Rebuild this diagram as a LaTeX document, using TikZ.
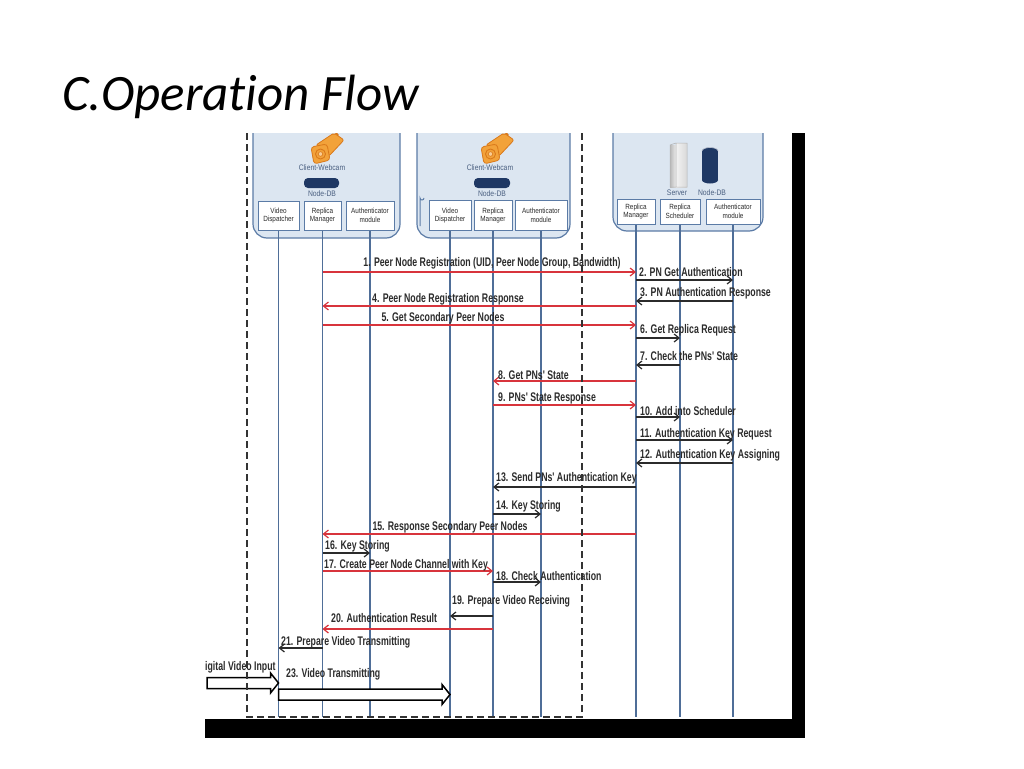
\documentclass[tikz,border=0pt]{standalone}
\usepackage{fontspec}
\setmainfont{Liberation Sans}
\newfontfamily\titlefont[Ligatures={NoCommon}]{Carlito}
\newfontfamily\labfont[FakeStretch=0.7]{Liberation Sans}
\newfontfamily\boxfont[FakeStretch=0.85]{Liberation Sans}
\usetikzlibrary{arrows.meta,calc}
\definecolor{lifec}{HTML}{4F6E98}
\definecolor{boxfill}{HTML}{DCE6F1}
\definecolor{boxline}{HTML}{5B7BA6}
\definecolor{redc}{HTML}{D8343C}
\definecolor{txtc}{HTML}{2B2B2B}
\definecolor{navyc}{HTML}{1F3864}
\definecolor{camo}{HTML}{F2A23A}
\definecolor{camd}{HTML}{D9781A}
\definecolor{capc}{HTML}{4A5F80}
\definecolor{bordc}{HTML}{333333}
\tikzset{
  outerbox/.style={draw=boxline, line width=1.2pt, fill=boxfill, rounded corners=14pt},
  subbox/.style={draw=boxline, line width=1pt, fill=white, inner sep=0pt, align=center,
    text=txtc, font=\boxfont\fontsize{7.5}{8.5}\selectfont},
  captext/.style={inner sep=0pt, text=capc, font=\boxfont\fontsize{8}{9}\selectfont},
  life/.style={draw=lifec, line width=1.3pt},
  msgk/.style={draw=txtc, line width=1.2pt, -{Straight Barb[length=5pt,width=8pt]}},
  msgr/.style={draw=redc, line width=1.2pt, -{Straight Barb[length=5pt,width=8pt]}},
  lab/.style={inner sep=0pt, text=txtc, font=\labfont\bfseries\fontsize{12.5}{13}\selectfont},
  hollow/.style={draw=black, line width=1.5pt, fill=white, line join=miter},
  bord/.style={draw=bordc, line width=1.8pt, dash pattern=on 7pt off 4pt},
  dbbox/.style={fill=navyc, rounded corners=4pt, inner sep=0pt},
  cam/.style={fill=camo, draw=camd, line width=0.8pt, line join=round}
}
\begin{document}
\begin{tikzpicture}[x=1pt,y=-1pt]
\useasboundingbox (0,0) rectangle (1024,768);

% title
\node[anchor=base west, inner sep=0pt, font=\titlefont\itshape\fontsize{51}{57}\selectfont] (title) at (62,110) {C.Operation Flow};

% black frame of embedded picture
\fill[black] (792,133) rectangle (805,738);
\fill[black] (205,719) rectangle (805,738);

\begin{scope}
\clip (205,133) rectangle (792,719);
% outer boxes
\draw[outerbox] (253,100) rectangle (400,238);
\draw[outerbox] (417,100) rectangle (570,238);
\draw[draw=boxline, line width=1pt] (420,226) -- (420,198) arc[start angle=180, end angle=0, radius=2];
\draw[outerbox] (613,100) rectangle (763,231);

% webcams
\foreach \dx in {0,170} {
  \begin{scope}[xshift=\dx pt]
    \draw[camd, line width=1.6pt, line cap=round] (325,131) -- (334,131) -- (338,135);
    \filldraw[cam, rounded corners=2pt] (316,145) -- (334,133) -- (344,140) -- (329,156) -- cycle;
    \filldraw[cam, rounded corners=3pt] (311,147) -- (327,144) -- (330,160) -- (314,164) -- cycle;
    \filldraw[cam, line width=0.9pt] (320.5,154) circle[radius=5];
    \filldraw[fill=camo!55, draw=camd, line width=0.6pt] (320.5,154) circle[radius=2.3];
  \end{scope}
}
\end{scope}

% texts and DB in clients
\node[captext] (cw1) at (322,168) {Client-Webcam};
\node[dbbox, minimum width=35pt, minimum height=10pt] (db1) at (321.5,183) {};
\node[captext] (dbt1) at (322,194) {Node-DB};
\node[captext] (cw2) at (490,168) {Client-Webcam};
\node[dbbox, minimum width=36pt, minimum height=10pt] (db2) at (492,183) {};
\node[captext] (dbt2) at (492,194) {Node-DB};

% server icons
\shade[left color=gray!55, right color=gray!15] (670,145) rectangle (676,187);
\shade[left color=gray!10, right color=gray!30] (676,143) rectangle (687,187);
\draw[gray!60, line width=0.5pt] (670,145) -- (676,143) -- (687,143) -- (687,187) -- (670,187) -- cycle (676,143) -- (676,187);
\fill[navyc] (702,151) rectangle (718,180);
\fill[navyc] (710,180) ellipse[x radius=8, y radius=3.5];
\fill[navyc] (710,151) ellipse[x radius=8, y radius=3.5];
\draw[white!70!navyc, line width=0.6pt] (702,151) arc[start angle=180, end angle=360, x radius=8, y radius=3.5];
\node[captext] (srvt) at (677,193) {Server};
\node[captext] (sdbt) at (712,193) {Node-DB};

% sub boxes
\node[subbox, minimum width=41pt, minimum height=29pt] (vd1) at (278.5,215.5) {Video\\Dispatcher};
\node[subbox, minimum width=37pt, minimum height=29pt] (rm1) at (322.5,215.5) {Replica\\Manager};
\node[subbox, minimum width=48pt, minimum height=29pt] (au1) at (370,215.5) {Authenticator\\module};
\node[subbox, minimum width=42pt, minimum height=30pt] (vd2) at (450,215.5) {Video\\Dispatcher};
\node[subbox, minimum width=38pt, minimum height=30pt] (rm2) at (493,215.5) {Replica\\Manager};
\node[subbox, minimum width=52pt, minimum height=30pt] (au2) at (541,215.5) {Authenticator\\module};
\node[subbox, minimum width=38pt, minimum height=25pt] (rms) at (636,211.5) {Replica\\Manager};
\node[subbox, minimum width=40pt, minimum height=25pt] (rs) at (680,211.5) {Replica\\Scheduler};
\node[subbox, minimum width=54pt, minimum height=25pt] (aus) at (733,211.5) {Authenticator\\module};

% lifelines
\foreach \n in {vd1,rm1,au1,vd2,rm2,au2,rms,rs,aus} {
  \draw[life] (\n.south) -- (\n |- 0,717);
}

% messages
\draw[msgr] (rm1 |- 0,272) -- (rms |- 0,272);
\draw[msgk] (rms |- 0,280) -- (aus |- 0,280);
\draw[msgk] (aus |- 0,301) -- (rms |- 0,301);
\draw[msgr] (rms |- 0,306) -- (rm1 |- 0,306);
\draw[msgr] (rm1 |- 0,325) -- (rms |- 0,325);
\draw[msgk] (rms |- 0,338) -- (rs |- 0,338);
\draw[msgk] (rs |- 0,365) -- (rms |- 0,365);
\draw[msgr] (rms |- 0,381) -- (rm2 |- 0,381);
\draw[msgr] (rm2 |- 0,405) -- (rms |- 0,405);
\draw[msgk] (rms |- 0,417) -- (rs |- 0,417);
\draw[msgk] (rms |- 0,440) -- (aus |- 0,440);
\draw[msgk] (aus |- 0,463) -- (rms |- 0,463);
\draw[msgk] (rms |- 0,487) -- (rm2 |- 0,487);
\draw[msgk] (rm2 |- 0,514) -- (au2 |- 0,514);
\draw[msgr] (rms |- 0,534) -- (rm1 |- 0,534);
\draw[msgk] (rm1 |- 0,553) -- (au1 |- 0,553);
\draw[msgr] (rm1 |- 0,571) -- (rm2 |- 0,571);
\draw[msgk] (rm2 |- 0,582) -- (au2 |- 0,582);
\draw[msgk] (rm2 |- 0,616) -- (vd2 |- 0,616);
\draw[msgr] (rm2 |- 0,629) -- (rm1 |- 0,629);
\draw[msgk] (rm1 |- 0,648) -- (vd1 |- 0,648);

% labels
\node[lab] (l1) at (492,263) {1. Peer Node Registration (UID, Peer Node Group, Bandwidth)};
\node[lab, anchor=west] (l2) at (639,272) {2. PN Get Authentication};
\node[lab, anchor=west] (l3) at (640,293) {3. PN Authentication  Response};
\node[lab] (l4) at (448,299) {4. Peer Node Registration Response};
\node[lab] (l5) at (443,318) {5. Get Secondary Peer Nodes};
\node[lab, anchor=west] (l6) at (640,330) {6. Get  Replica Request};
\node[lab, anchor=west] (l7) at (640,356) {7. Check the PNs' State};
\node[lab, anchor=west] (l8) at (498,375) {8. Get PNs' State};
\node[lab, anchor=west] (l9) at (498,398) {9. PNs' State Response};
\node[lab, anchor=west] (l10) at (640,411) {10. Add into Scheduler};
\node[lab, anchor=west] (l11) at (640,434) {11. Authentication Key Request};
\node[lab, anchor=west] (l12) at (640,455) {12. Authentication Key Assigning};
\node[lab, anchor=west] (l13) at (496,478) {13. Send PNs' Authentication Key};
\node[lab, anchor=west] (l14) at (496,506) {14. Key Storing};
\node[lab] (l15) at (450,527) {15. Response Secondary Peer Nodes};
\node[lab, anchor=west] (l16) at (325,546) {16. Key Storing};
\node[lab, anchor=west] (l17) at (324,565) {17. Create Peer Node Channel with Key};
\node[lab, anchor=west] (l18) at (496,576) {18. Check Authentication};
\node[lab, anchor=west] (l19) at (452,601) {19. Prepare Video Receiving};
\node[lab, anchor=west] (l20) at (331,618) {20. Authentication  Result};
\node[lab, anchor=west] (l21) at (281,642) {21. Prepare Video Transmitting};
\node[lab, anchor=west] (ldin) at (205,667) {igital Video Input};
\node[lab, anchor=west] (l23) at (286,674) {23. Video Transmitting};

% hollow arrows
\coordinate (din) at (207,683);
\coordinate (dinE) at (vd1 |- din);
\draw[hollow] ($(din)+(0,-5.5)$) -- ($(dinE)+(-8,-5.5)$) -- ($(dinE)+(-8,-10)$) -- (dinE)
  -- ($(dinE)+(-8,10)$) -- ($(dinE)+(-8,5.5)$) -- ($(din)+(0,5.5)$) -- cycle;
\coordinate (vtA) at (vd1 |- 0,694.5);
\coordinate (vtB) at (vd2 |- 0,694.5);
\draw[hollow] ($(vtA)+(0,-5.5)$) -- ($(vtB)+(-8,-5.5)$) -- ($(vtB)+(-8,-10)$) -- (vtB)
  -- ($(vtB)+(-8,10)$) -- ($(vtB)+(-8,5.5)$) -- ($(vtA)+(0,5.5)$) -- cycle;

% dashed border of the client side
\draw[bord] (247,133) -- (247,717) -- (582,717) -- (582,133);
\end{tikzpicture}
\end{document}
